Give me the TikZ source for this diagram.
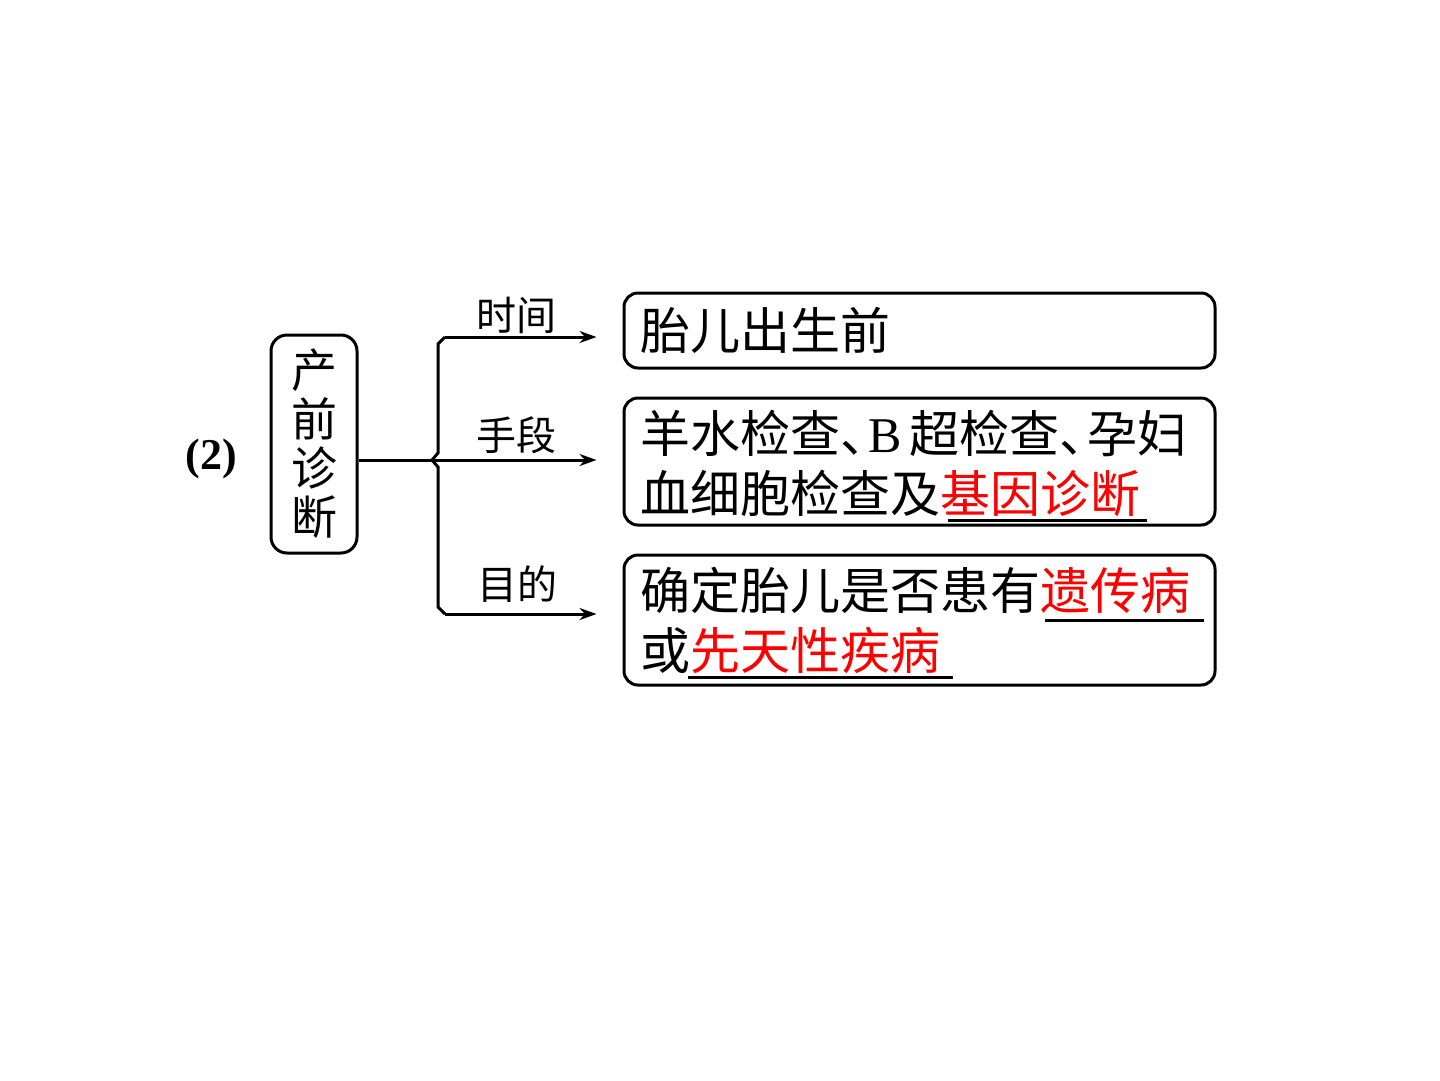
\documentclass[tikz,border=0pt]{standalone}
\usepackage{fontspec}
\setmainfont{Liberation Serif}
\newfontfamily\cjk{Noto Sans CJK SC}
\usetikzlibrary{arrows.meta}
\newcommand{\dunhao}{\makebox[28pt][l]{、}}
\begin{document}
\begin{tikzpicture}[x=1pt,y=-1pt,
  box/.style={draw, line width=3pt, rounded corners=14pt, inner sep=0pt},
  conn/.style={line width=3pt},
  arr/.style={conn, -{Stealth[length=17pt,width=12pt]}},
  txt/.style={anchor=base west, inner sep=0pt, font=\cjk\fontsize{50}{50}\selectfont},
  lbl/.style={anchor=center, inner sep=0pt, font=\cjk\fontsize{40}{40}\selectfont},
  uline/.style={line width=3pt}]
\useasboundingbox (0,0) rectangle (1440,1080);
% label (2)
\node[inner sep=0pt, font=\bfseries\fontsize{44}{44}\selectfont] (num) at (211,459) {(2)};
% main box
\node[box, rounded corners=16pt, minimum width=86pt, minimum height=218pt] (main) at (314,444) {};
\node[inner sep=0pt, align=center, font=\cjk\fontsize{46}{49}\selectfont] (maintxt) at (314,444) {产\\前\\诊\\断};
% right boxes
\node[box, minimum width=591pt, minimum height=75pt] (b1) at (919.5,330.5) {};
\node[box, minimum width=591pt, minimum height=127pt] (b2) at (919.5,461.5) {};
\node[box, minimum width=591pt, minimum height=130pt] (b3) at (919.5,620) {};
% bracket
\coordinate (bk) at (432,460);
\coordinate (t) at (445,337);
\coordinate (bt) at (445,614);
\draw[conn] (main.east |- bk) -- (bk);
\draw[conn] (t) -- (438,344) -- (438,453) -- (bk) -- (438,467) -- (438,607) -- (bt);
\draw[arr] (t) -- ([xshift=-26pt]b1.west |- t);
\draw[arr] (bk) -- ([xshift=-26pt]b2.west |- bk);
\draw[arr] (bt) -- ([xshift=-26pt]b3.west |- bt);
% arrow labels
\node[lbl] (l1) at (516,315) {时间};
\node[lbl] (l2) at (516,435) {手段};
\node[lbl] (l3) at (517,584) {目的};
% box texts
\node[txt] (t1) at (640,349) {胎儿出生前};
\node[txt] (t2a) at (640,452) {羊水检查\dunhao\rmfamily B\hspace{8pt}\cjk 超检查\dunhao 孕妇};
\node[txt] (t2b) at (640,512) {血细胞检查及\textcolor{red}{基因诊断}};
\node[txt] (t3a) at (640,609) {确定胎儿是否患有\textcolor{red}{遗传病}};
\node[txt] (t3b) at (640,669) {或\textcolor{red}{先天性疾病}};
% underlines
\draw[uline] (948,520) -- (1147,520);
\draw[uline] (1045,620) -- (1204,620);
\draw[uline] (688,677) -- (953,677);
\end{tikzpicture}
\end{document}
